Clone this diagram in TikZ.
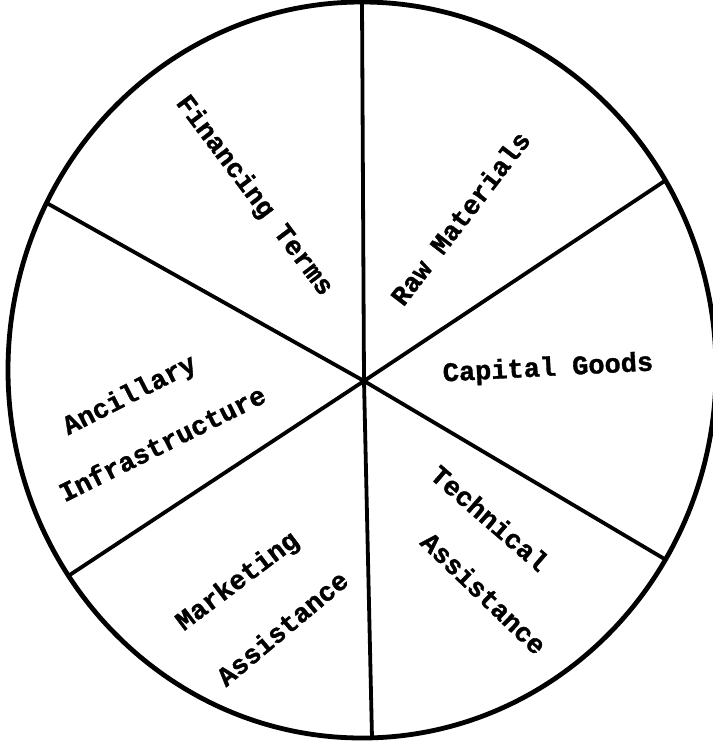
\documentclass[tikz,border=0pt]{standalone}
\usepackage{fontspec}
\newfontfamily\lblfont{Liberation Mono Bold}[FakeBold=1.2]
\begin{document}
\begin{tikzpicture}[x=1pt,y=-1pt,
  lbl/.style={font=\lblfont\fontsize{27}{30}\selectfont, inner sep=0pt, anchor=center},
  rim/.style={line width=4.8pt},
  spoke/.style={line width=3.8pt, line cap=round}]
\useasboundingbox (0,0) rectangle (712,741);
\fill[white] (0,0) rectangle (712,741);
% outer rim
\draw[rim] (362,370) ellipse [x radius=354pt, y radius=368pt];
% hub and rim points
\coordinate (c) at (364,381);
\coordinate (pT) at (362,3);
\coordinate (pB) at (372,738);
\coordinate (pUR) at ({362+354*cos(31)},{370-368*sin(31)});
\coordinate (pLR) at ({362+354*cos(-31)},{370-368*sin(-31)});
\coordinate (pUL) at ({362+354*cos(153)},{370-368*sin(153)});
\coordinate (pLL) at ({362+354*cos(214)},{370-368*sin(214)});
% spokes
\draw[spoke] (c) -- (pT);
\draw[spoke] (c) -- (pB);
\draw[spoke] (c) -- (pUR);
\draw[spoke] (c) -- (pLR);
\draw[spoke] (c) -- (pUL);
\draw[spoke] (c) -- (pLL);
% labels
\node[lbl, rotate=-53] (fin) at (254,196) {Financing Terms};
\node[lbl, rotate=52.5] (raw) at (460,218) {Raw Materials};
\node[lbl, rotate=3] (cap) at (548,369) {Capital Goods};
\node[lbl, rotate=27] (anc) at (130,396) {Ancillary};
\node[lbl, rotate=26.5] (inf) at (162,443) {Infrastructure};
\node[lbl, rotate=37] (mkt) at (238,582) {Marketing};
\node[lbl, rotate=40] (mas) at (282,628) {Assistance};
\node[lbl, rotate=-41] (tec) at (490,518) {Technical};
\node[lbl, rotate=-44] (tas) at (484,593) {Assistance};
\end{tikzpicture}
\end{document}
